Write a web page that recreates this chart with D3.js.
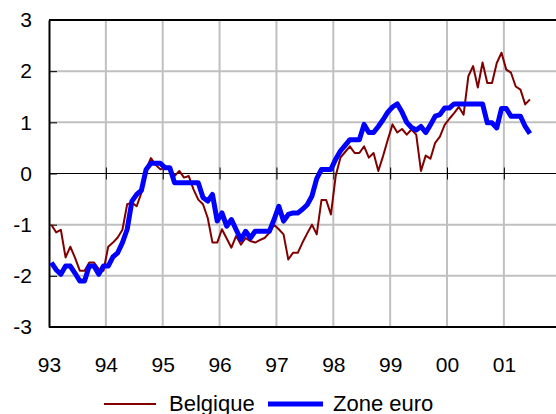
<!DOCTYPE html>
<html>
<head>
<meta charset="utf-8">
<script src="https://d3js.org/d3.v7.min.js"></script>
<style>
  body { margin: 0; background: #fff; }
  svg { display: block; font-family: "Liberation Sans", Arial, sans-serif; }
</style>
</head>
<body>
<div id="chart"></div>
<script>
// monthly values, Jan 1993 .. Jun 2001
var belgique = [
  -1.0, -1.15, -1.1, -1.64, -1.43, -1.65, -1.9, -1.9, -1.74, -1.74, -1.87, -1.9,
  -1.43, -1.35, -1.25, -1.1, -0.6, -0.57, -0.64, -0.38, 0.08, 0.3, 0.17, 0.08,
  0.11, 0.11, -0.05, 0.05, -0.08, -0.05, -0.31, -0.51, -0.6, -0.87, -1.35, -1.35,
  -1.09, -1.27, -1.45, -1.22, -1.39, -1.26, -1.32, -1.35, -1.3, -1.26, -1.16, -1.0,
  -1.09, -1.19, -1.68, -1.55, -1.55, -1.35, -1.17, -1.0, -1.19, -0.52, -0.52, -0.8,
  -0.05, 0.31, 0.42, 0.53, 0.4, 0.4, 0.53, 0.31, 0.4, 0.05, 0.34, 0.66,
  0.96, 0.8, 0.87, 0.76, 0.86, 0.76, 0.05, 0.35, 0.29, 0.6, 0.72, 0.95,
  1.07, 1.18, 1.3, 1.15, 1.9, 2.1, 1.68, 2.17, 1.77, 1.77, 2.16, 2.36,
  2.03, 1.97, 1.7, 1.64, 1.35, 1.45
];
var zoneEuro = [
  -1.74, -1.88, -1.97, -1.81, -1.81, -1.95, -2.1, -2.1, -1.81, -1.81, -1.97, -1.81,
  -1.81, -1.63, -1.55, -1.35, -1.09, -0.54, -0.41, -0.33, 0.08, 0.2, 0.2, 0.2,
  0.11, 0.11, -0.18, -0.18, -0.18, -0.18, -0.18, -0.18, -0.47, -0.54, -0.41, -0.93,
  -0.77, -1.03, -0.9, -1.1, -1.29, -1.13, -1.26, -1.13, -1.13, -1.13, -1.13, -0.9,
  -0.64, -0.93, -0.8, -0.77, -0.77, -0.7, -0.61, -0.44, -0.1, 0.08, 0.08, 0.08,
  0.28, 0.44, 0.55, 0.66, 0.66, 0.66, 0.96, 0.8, 0.8, 0.92, 1.05, 1.2,
  1.3, 1.36, 1.2, 1.0, 0.9, 0.85, 0.92, 0.8, 0.95, 1.12, 1.15, 1.28,
  1.28, 1.36, 1.36, 1.36, 1.36, 1.36, 1.36, 1.36, 0.99, 0.99, 0.89, 1.27,
  1.27, 1.12, 1.12, 1.12, 0.92, 0.78
];
var yearLabels = ["93", "94", "95", "96", "97", "98", "99", "00", "01"];
var yTicks = [-3, -2, -1, 0, 1, 2, 3];
var seriesNames = ["Belgique", "Zone euro"];

(function () {
    var width = 556, height = 414;
    var plotLeft = 49, plotRight = 556, plotTop = 20, plotBottom = 327;
    var fontSize = "21px";

    var svg = d3.select("#chart").append("svg")
        .attr("width", width)
        .attr("height", height);

    // x in months since Jan 93, points sit mid-month
    var x = d3.scaleLinear().domain([0, 107]).range([plotLeft, plotRight]);
    var y = d3.scaleLinear().domain([-3, 3]).range([plotBottom, plotTop]);
    var yearMonths = yearLabels.map(function (d, i) { return i * 12; });

    // vertical grid
    svg.append("g")
        .selectAll("line")
        .data(yearMonths.slice(1))
        .enter().append("line")
        .attr("x1", function (d) { return x(d); })
        .attr("x2", function (d) { return x(d); })
        .attr("y1", plotTop).attr("y2", plotBottom)
        .style("stroke", "#c0c0c0")
        .style("stroke-width", 2);

    // horizontal grid
    svg.append("g")
        .selectAll("line")
        .data(yTicks.filter(function (d) { return d !== 0 && Math.abs(d) !== 3; }))
        .enter().append("line")
        .attr("x1", plotLeft).attr("x2", plotRight)
        .attr("y1", function (d) { return y(d); })
        .attr("y2", function (d) { return y(d); })
        .style("stroke", "#c0c0c0")
        .style("stroke-width", 2);

    // frame top/bottom
    [3, -3].forEach(function (v) {
        svg.append("line")
            .attr("x1", plotLeft).attr("x2", plotRight)
            .attr("y1", y(v)).attr("y2", y(v))
            .style("stroke", "#000")
            .style("stroke-width", 2);
    });

    // zero line with year ticks
    svg.append("line")
        .attr("x1", plotLeft).attr("x2", plotRight)
        .attr("y1", y(0)).attr("y2", y(0))
        .style("stroke", "#000")
        .style("stroke-width", 1);

    var zeroTicks = svg.append("g")
        .attr("transform", "translate(0," + (y(0) - 6) + ")")
        .call(d3.axisBottom(x).tickValues(yearMonths.slice(1)).tickSize(12).tickFormat(""));
    zeroTicks.select(".domain").remove();
    zeroTicks.selectAll("line").style("stroke", "#000").style("stroke-width", 1);

    // y axis (plain hyphen for negatives)
    var axisY = svg.append("g")
        .attr("transform", "translate(" + plotLeft + ",0)")
        .call(d3.axisLeft(y).tickValues(yTicks).tickSizeInner(-8).tickSizeOuter(0).tickPadding(17)
            .tickFormat(function (d) { return String(d); }));
    axisY.select(".domain").style("stroke", "#000").style("stroke-width", 2);
    axisY.selectAll("line").style("stroke", "#000").style("stroke-width", 1);
    axisY.selectAll("text")
        .style("font-size", fontSize)
        .style("fill", "#000")
        .attr("font-family", "Liberation Sans, Arial, sans-serif");

    // x labels
    var axisX = svg.append("g")
        .attr("transform", "translate(0," + plotBottom + ")")
        .call(d3.axisBottom(x).tickValues(yearMonths).tickSize(0).tickPadding(30)
            .tickFormat(function (d, i) { return yearLabels[i]; }));
    axisX.select(".domain").remove();
    axisX.selectAll("text")
        .style("font-size", fontSize)
        .style("fill", "#000")
        .attr("font-family", "Liberation Sans, Arial, sans-serif");

    // lines
    var line = d3.line()
        .x(function (d, i) { return x(i + 0.5); })
        .y(function (d) { return y(d); });

    svg.append("path")
        .datum(belgique)
        .attr("d", line)
        .style("fill", "none")
        .style("stroke", "#800000")
        .style("stroke-width", 2)
        .style("stroke-linejoin", "round");

    svg.append("path")
        .datum(zoneEuro)
        .attr("d", line)
        .style("fill", "none")
        .style("stroke", "#0000ff")
        .style("stroke-width", 5)
        .style("stroke-linejoin", "round");

    // legend
    var legend = [
        { name: seriesNames[0], color: "#800000", w: 2, x1: 104, x2: 156, tx: 169 },
        { name: seriesNames[1], color: "#0000ff", w: 5, x1: 268, x2: 323, tx: 333 }
    ];
    var lg = svg.append("g").selectAll("g").data(legend).enter().append("g");
    lg.append("line")
        .attr("x1", function (d) { return d.x1; })
        .attr("x2", function (d) { return d.x2; })
        .attr("y1", 404).attr("y2", 404)
        .style("stroke", function (d) { return d.color; })
        .style("stroke-width", function (d) { return d.w; });
    lg.append("text")
        .attr("x", function (d) { return d.tx; })
        .attr("y", 411)
        .style("font-size", "22px")
        .text(function (d) { return d.name; });
})();
</script>
</body>
</html>
